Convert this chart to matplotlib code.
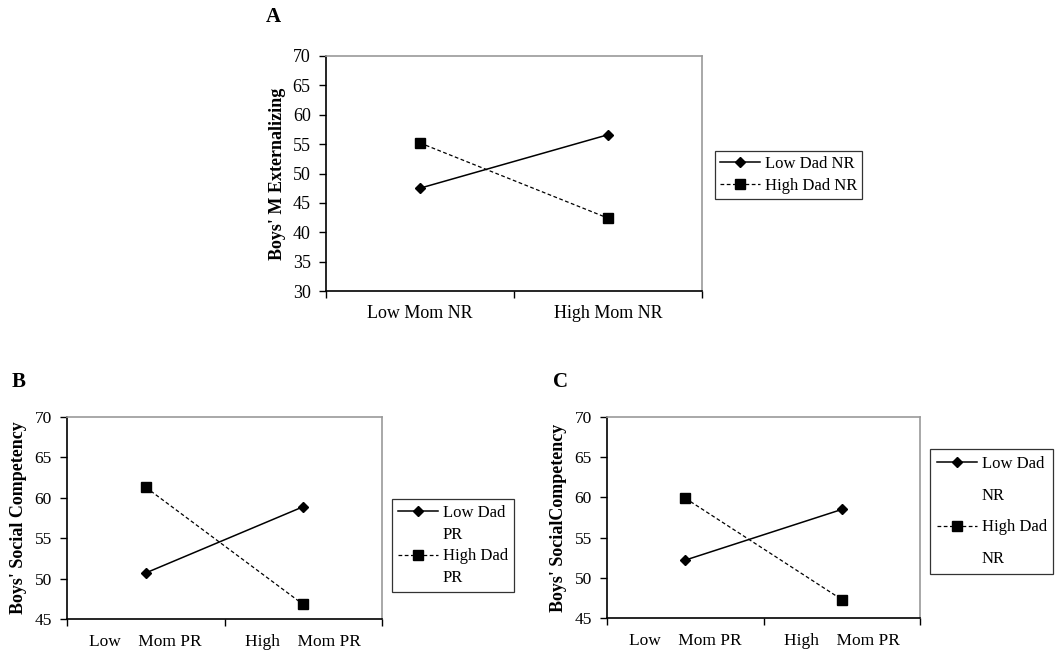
import matplotlib.pyplot as plt
from matplotlib.lines import Line2D

plt.rcParams['font.family'] = ['Liberation Serif', 'DejaVu Serif']

# Panel A
cats_a = ['Low Mom NR', 'High Mom NR']
a_low_dad = [47.5, 56.6]
a_high_dad = [55.2, 42.4]
a_labels = ['Low Dad NR', 'High Dad NR']

# Panel B
cats_bc = ['Low    Mom PR', 'High    Mom PR']
b_low_dad = [50.7, 58.9]
b_high_dad = [61.3, 46.8]
b_labels = ['Low Dad', 'PR', 'High Dad', 'PR']

# Panel C
c_low_dad = [52.2, 58.5]
c_high_dad = [59.9, 47.3]
c_labels = ['Low Dad', 'NR', 'High Dad', 'NR']

fig = plt.figure(figsize=(10.6, 6.53), dpi=100)

W, H = 1060, 653


def px_axes(x0, y0, x1, y1):
    # pixel box (top-left origin) -> figure axes
    return fig.add_axes([x0 / W, 1 - y1 / H, (x1 - x0) / W, (y1 - y0) / H])


def panel(ax, cats, low, high, ylim, yticks, ylabel, fs, lfs, xpad):
    xs = [0.5 + i for i in range(len(cats))]
    ax.plot(xs, low, color='black', lw=1.1, marker='D', ms=5.5,
            markerfacecolor='black')
    ax.plot(xs, high, color='black', lw=0.9, ls=(0, (3, 2)), marker='s',
            ms=6.8, markerfacecolor='black')
    ax.set_xlim(0, len(cats))
    ax.set_ylim(*ylim)
    ax.set_yticks(yticks)
    ax.set_xticks(range(len(cats) + 1))
    ax.set_xticklabels([])
    ax.set_xticks(xs, minor=True)
    ax.set_xticklabels(cats, minor=True)
    ax.tick_params(axis='x', which='minor', length=0, pad=xpad, labelsize=fs)
    ax.tick_params(axis='x', which='major', length=5, width=1, direction='out')
    ax.tick_params(axis='y', length=5, width=1, direction='out', pad=6,
                   labelsize=fs)
    for s in ['top', 'right']:
        ax.spines[s].set_color('#9a9a9a')
        ax.spines[s].set_linewidth(1.2)
    for s in ['left', 'bottom']:
        ax.spines[s].set_color('black')
        ax.spines[s].set_linewidth(1.2)
    ax.set_ylabel(ylabel, fontweight='bold', fontsize=lfs, labelpad=5)


def legend(labels, x, y, fs, spacing, bpad):
    solid = Line2D([], [], color='black', lw=1.1, marker='D', ms=5)
    dashed = Line2D([], [], color='black', lw=0.9, ls=(0, (3, 2)),
                    marker='s', ms=6.5)
    blank = Line2D([], [], alpha=0)
    if len(labels) == 2:
        handles = [solid, dashed]
    else:
        handles = [solid, blank, dashed, blank]
    leg = fig.legend(handles, labels, loc='upper left',
                     bbox_to_anchor=(x / W, 1 - y / H), fontsize=fs,
                     frameon=True, fancybox=False, edgecolor='black',
                     handlelength=2.4, handletextpad=0.3, borderpad=bpad,
                     labelspacing=spacing, numpoints=1, borderaxespad=0)
    leg.get_frame().set_linewidth(0.9)
    return leg


ax_a = px_axes(326, 56, 702, 291)
panel(ax_a, cats_a, a_low_dad, a_high_dad, (30, 70), range(30, 71, 5),
      "Boys' M Externalizing", 13, 13, 10)
legend(a_labels, 715, 151, 12, 0.35, 0.3)

ax_b = px_axes(67, 417, 382, 619)
panel(ax_b, cats_bc, b_low_dad, b_high_dad, (45, 70), range(45, 71, 5),
      "Boys' Social Competency", 12.5, 13, 11)
legend(b_labels, 392, 499, 12, 0.35, 0.35)

ax_c = px_axes(607, 417, 920, 618)
panel(ax_c, cats_bc, c_low_dad, c_high_dad, (45, 70), range(45, 71, 5),
      "Boys' SocialCompetency", 12.5, 13, 11)
legend(c_labels, 930, 449, 12, 0.95, 0.4)

fig.text(266 / W, 1 - 17 / H, 'A', fontsize=15, fontweight='bold', va='center')
fig.text(12 / W, 1 - 382 / H, 'B', fontsize=15, fontweight='bold', va='center')
fig.text(553 / W, 1 - 382 / H, 'C', fontsize=15, fontweight='bold', va='center')

fig.savefig('out.png', dpi=100)
